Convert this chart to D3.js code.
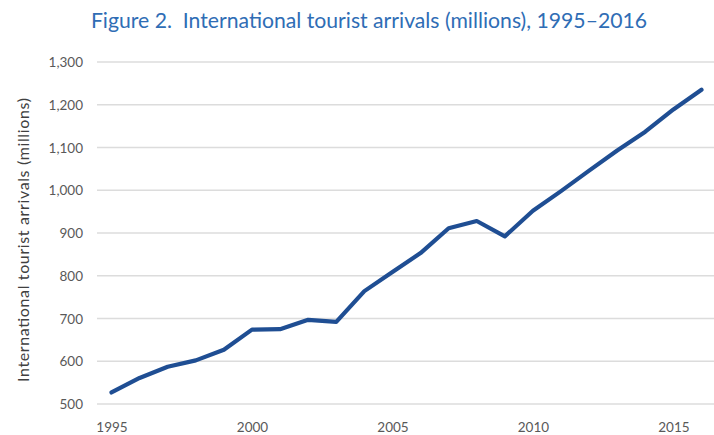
<!DOCTYPE html>
<html><head><meta charset="utf-8">
<script src="https://cdn.jsdelivr.net/npm/d3@7"></script>
<style>body{margin:0;background:#fff;} svg{display:block;}</style>
</head><body>
<svg id="c" width="714" height="435"></svg>
<script>
const years = [1995,1996,1997,1998,1999,2000,2001,2002,2003,2004,2005,2006,2007,2008,2009,2010,2011,2012,2013,2014,2015,2016];
const arrivals = [527,561,587,602,627,674,675,697,692,764,809,853,911,928,892,952,998,1046,1093,1137,1189,1235];
const yTicks = [500,600,700,800,900,1000,1100,1200,1300];
const xTicks = [1995,2000,2005,2010,2015];
const titleText = "Figure 2.  International tourist arrivals (millions), 1995\u20132016";
const yTitle = "International tourist arrivals (millions)";

const svg = d3.select("#c");
const font = "Lato, 'Open Sans', sans-serif";
const x = d3.scaleLinear().domain([1995,2016]).range([111.5,701.5]);
const y = d3.scaleLinear().domain([500,1300]).range([404,62]);

svg.append("text").attr("x",369).attr("y",28).attr("text-anchor","middle")
  .attr("font-family",font).attr("font-size",21.2).attr("fill","#2F6DB5")
  .style("white-space","pre").text(titleText);

// gridlines
svg.append("g").selectAll("line").data(yTicks).join("line")
  .attr("x1",97).attr("x2",714).attr("y1",d=>y(d)).attr("y2",d=>y(d))
  .attr("stroke","#dcdcdc").attr("stroke-width",1.6);

const yAxis = d3.axisLeft(y).tickValues(yTicks).tickSize(0).tickPadding(0).tickFormat(d3.format(","));
const gy = svg.append("g").attr("transform","translate(83,0)").call(yAxis);
gy.select(".domain").remove();
gy.selectAll("text").attr("font-family",font).attr("font-size",13.5).attr("fill","#595959").attr("dy","0.35em");

const xAxis = d3.axisBottom(x).tickValues(xTicks).tickSize(0).tickPadding(0).tickFormat(d3.format("d"));
const gx = svg.append("g").attr("transform","translate(0,422)").call(xAxis);
gx.select(".domain").remove();
gx.selectAll("text").attr("font-family",font).attr("font-size",13.5).attr("fill","#595959").attr("dy","0.71em");

svg.append("text").attr("transform","translate(29,240) rotate(-90)").attr("text-anchor","middle")
  .attr("font-family",font).attr("font-size",16).attr("fill","#404040")
  .attr("textLength",284).attr("lengthAdjust","spacing").text(yTitle);

const line = d3.line().x((d,i)=>x(years[i])).y(d=>y(d));
svg.append("path").datum(arrivals).attr("d",line).attr("fill","none")
  .attr("stroke","#1F4E93").attr("stroke-width",4.2).attr("stroke-linejoin","round").attr("stroke-linecap","round");
</script>
</body></html>
